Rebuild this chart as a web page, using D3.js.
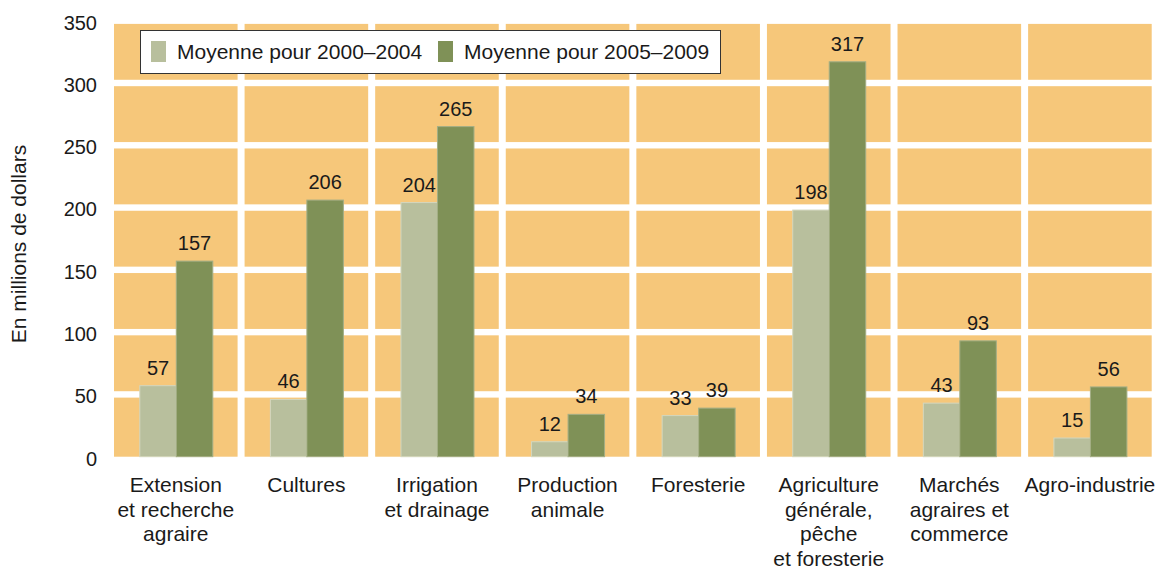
<!DOCTYPE html>
<html>
<head>
<meta charset="utf-8">
<script src="https://cdn.jsdelivr.net/npm/d3@7"></script>
<style>
  body { margin: 0; background: #fff; }
  svg text { font-family: "Liberation Sans", Arial, sans-serif; fill: #1a1a1a; }
</style>
</head>
<body>
<svg id="chart" width="1159" height="570"></svg>
<script>
// categories (label lines) and the two series
const categories = [
  ["Extension", "et recherche", "agraire"],
  ["Cultures"],
  ["Irrigation", "et drainage"],
  ["Production", "animale"],
  ["Foresterie"],
  ["Agriculture", "générale,", "pêche", "et foresterie"],
  ["Marchés", "agraires et", "commerce"],
  ["Agro-industrie"]
];
const avg2000_2004 = [57, 46, 204, 12, 33, 198, 43, 15];
const avg2005_2009 = [157, 206, 265, 34, 39, 317, 93, 56];
const seriesNames = ["Moyenne pour 2000–2004", "Moyenne pour 2005–2009"];
const yTicks = [0, 50, 100, 150, 200, 250, 300, 350];

const colors = ["#b8bf9d", "#7f9157"];
const strokes = ["#d3d7bf", "#a3ae85"];
const bgColor = "#f6c77a";

let chart = d3.select("#chart");

let keys = categories.map((c, i) => i);

let xScale = d3.scaleBand()
    .domain(keys)
    .range([110.5, 1155.2]);

let yScale = d3.scaleLinear()
    .domain([0, 350])
    .range([456.7, 20.7]);

let barW = 36.5;

// orange tiles separated by white gaps
let gap = 3.2;
let rows = d3.range(yTicks.length - 1);
keys.forEach(k => {
    rows.forEach(r => {
        let y0 = yScale(yTicks[r]);
        let y1 = yScale(yTicks[r + 1]);
        chart.append("rect")
            .attr("x", xScale(k) + 3.5)
            .attr("y", y1 + gap)
            .attr("width", xScale.bandwidth() - 7)
            .attr("height", (r == 0 ? y0 : y0 - gap) - (y1 + gap))
            .attr("fill", bgColor);
    });
});

// y tick labels
let yAxis = chart.append("g")
    .attr("transform", "translate(97,2)")
    .call(d3.axisLeft(yScale).tickValues(yTicks).tickSize(0).tickPadding(0));
yAxis.select(".domain").remove();
yAxis.selectAll("text")
    .style("font-size", "20px")
    .style("font-family", "Liberation Sans, Arial, sans-serif")
    .attr("fill", "#1a1a1a");

chart.append("text")
    .text("En millions de dollars")
    .attr("transform", "translate(26,244) rotate(-90)")
    .style("text-anchor", "middle")
    .style("font-size", "21px");

// bars
[avg2000_2004, avg2005_2009].forEach((series, s) => {
    chart.selectAll(".bar" + s)
        .data(series).enter()
            .append("rect")
                .attr("class", "bar" + s)
                .attr("x", (d, i) => xScale(i) + xScale.bandwidth() / 2 - barW + s * barW + 0.5)
                .attr("y", d => yScale(d))
                .attr("width", barW)
                .attr("height", d => yScale(0) - yScale(d))
                .attr("fill", colors[s])
                .attr("stroke", strokes[s])
                .attr("stroke-width", 1);

    chart.selectAll(".val" + s)
        .data(series).enter()
            .append("text")
                .attr("class", "val" + s)
                .text(d => d)
                .attr("x", (d, i) => xScale(i) + xScale.bandwidth() / 2 - barW / 2 + s * barW + 0.5)
                .attr("y", d => yScale(d) - 11)
                .style("text-anchor", "middle")
                .style("font-size", "20px");
});

// category labels
keys.forEach(k => {
    let t = chart.append("text")
        .attr("x", xScale(k) + xScale.bandwidth() / 2)
        .attr("y", 492)
        .style("text-anchor", "middle")
        .style("font-size", "21px")
        .attr("fill", "#2a2a2a");
    categories[k].forEach((line, j) => {
        t.append("tspan")
            .attr("x", xScale(k) + xScale.bandwidth() / 2)
            .attr("dy", j == 0 ? 0 : 24.5)
            .text(line);
    });
});

// legend
let legend = chart.append("g");
legend.append("rect")
    .attr("x", 140.5).attr("y", 30.5)
    .attr("width", 580).attr("height", 43)
    .attr("fill", "#fff")
    .attr("stroke", "#333")
    .attr("stroke-width", 1);
let legendX = [151, 438];
seriesNames.forEach((name, s) => {
    legend.append("rect")
        .attr("x", legendX[s]).attr("y", 41)
        .attr("width", 15).attr("height", 21)
        .attr("fill", colors[s]);
    legend.append("text")
        .text(name)
        .attr("x", legendX[s] + 26)
        .attr("y", 59)
        .style("font-size", "21px");
});
</script>
</body>
</html>
